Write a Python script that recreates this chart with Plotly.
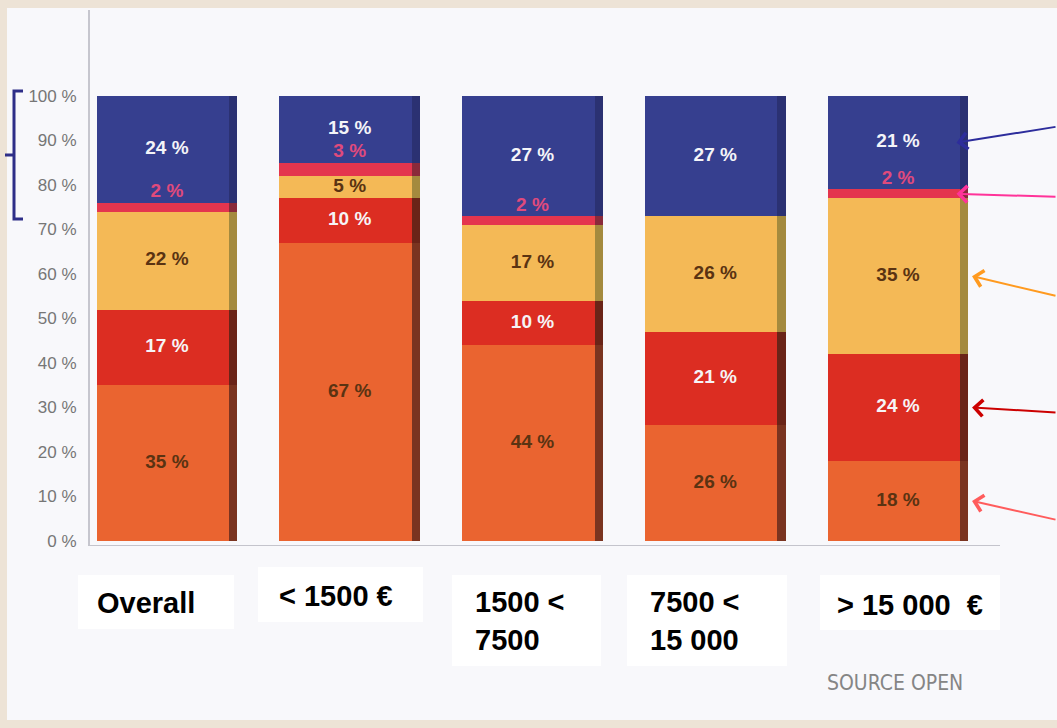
import plotly.graph_objects as go

# ---------------- data ----------------
categories = ["Overall", "< 1500 €", "1500 < 7500", "7500 < 15 000", "> 15 000 €"]
category_labels = ["Overall", "< 1500 €", "1500 <<br>7500", "7500 <<br>15 000", "> 15 000  €"]

orange_vals = [35, 67, 44, 26, 18]   # bottom segment
red_vals = [17, 10, 10, 21, 24]
yellow_vals = [22, 5, 17, 26, 35]
pink_vals = [2, 3, 2, 0, 2]
blue_vals = [24, 15, 27, 27, 21]     # top segment

tick_values = [0, 10, 20, 30, 40, 50, 60, 70, 80, 90, 100]
tick_labels = ["0 %", "10 %", "20 %", "30 %", "40 %", "50 %", "60 %", "70 %", "80 %", "90 %", "100 %"]

# ---------------- styles ----------------
segments = [
    # values, fill colour, right-edge shade, label colour
    (orange_vals, "#ea6430", "#7a3420", "#5a3312"),
    (red_vals, "#dc2d22", "#6a2418", "#f6f4f6"),
    (yellow_vals, "#f4b956", "#a48a3e", "#5a3312"),
    (pink_vals, "#e4354e", "#8a2a3a", "#e04a7c"),
    (blue_vals, "#363f8f", "#2b3172", "#f4f4f8"),
]

W, H = 1057, 728
ML, MR, MT, MB = 90, 57, 10, 183
PW, PH = W - ML - MR, H - MT - MB


def px(x):
    return (x - ML) / PW


def py(y):
    return (H - MB - y) / PH


BAR_W = 0.77
SHADE_W = 0.045

fig = go.Figure()

# bars (explicit stacking via base, overlay mode)
bases = [0] * len(categories)
seg_bases = []
for vals, col, shade, lab in segments:
    seg_bases.append(list(bases))
    fig.add_trace(go.Bar(
        x=categories, y=vals, base=list(bases), width=BAR_W,
        marker=dict(color=col, line=dict(width=0)),
        showlegend=False, hoverinfo="skip",
    ))
    bases = [b + v for b, v in zip(bases, vals)]

# dark strip on the right side of each bar
for (vals, col, shade, lab), b in zip(segments, seg_bases):
    fig.add_trace(go.Bar(
        x=categories, y=vals, base=b, width=SHADE_W,
        offset=BAR_W / 2 - SHADE_W,
        marker=dict(color=shade, line=dict(width=0)),
        showlegend=False, hoverinfo="skip",
    ))

# percentage labels
LABEL_FONT = "Liberation Sans, Arial, sans-serif"
for idx, ((vals, col, shade, lab), b) in enumerate(zip(segments, seg_bases)):
    if idx == 3:  # thin pink band: label placed just above it
        ys = [bb + v + 2.3 for bb, v in zip(b, vals)]
    else:
        ys = [bb + v / 2 for bb, v in zip(b, vals)]
    texts = [f"{v} %" if v > 0 else "" for v in vals]
    fig.add_trace(go.Scatter(
        x=categories, y=ys, mode="text", text=texts,
        textfont=dict(family=LABEL_FONT, size=19, color=lab, weight="bold"),
        showlegend=False, hoverinfo="skip",
    ))

shapes = []
# card background
shapes.append(dict(type="rect", xref="paper", yref="paper",
                   x0=px(7), x1=px(1060), y0=py(720), y1=py(8),
                   fillcolor="#f8f8fb", line=dict(width=0), layer="below"))
# white boxes behind category names
boxes = [(78, 575, 234, 629), (258, 567, 423, 622), (452, 575, 601, 666),
         (627, 575, 787, 666), (820, 575, 1000, 630)]
for x0, y0, x1, y1 in boxes:
    shapes.append(dict(type="rect", xref="paper", yref="paper",
                       x0=px(x0), x1=px(x1), y0=py(y1), y1=py(y0),
                       fillcolor="#ffffff", line=dict(width=0), layer="below"))
# bracket on the left
bracket = (f"M {px(23)},{py(91)} L {px(14)},{py(91)} L {px(14)},{py(219)} L {px(23)},{py(219)} "
           f"M {px(5)},{py(155)} L {px(14)},{py(155)}")
shapes.append(dict(type="path", xref="paper", yref="paper", path=bracket,
                   line=dict(color="#2e2e88", width=3)))

annotations = []
label_left = [95, 277, 473, 648, 835]
label_mid = [603, 596, 621, 621, 605]
for txt, lx, ly in zip(category_labels, label_left, label_mid):
    annotations.append(dict(
        text=txt, xref="paper", yref="paper", x=px(lx), y=py(ly),
        xanchor="left", yanchor="middle", align="left", showarrow=False,
        font=dict(family="Liberation Sans, Arial, sans-serif", size=29,
                  color="#000000", weight="bold"),
    ))

annotations.append(dict(
    text="SOURCE OPEN", xref="paper", yref="paper", x=px(825), y=py(683),
    xanchor="left", yanchor="middle", showarrow=False,
    font=dict(family="Liberation Sans Narrow, DejaVu Sans Condensed, Arial Narrow, sans-serif",
              size=21, color="#858585"),
))

# arrows pointing at the last bar's segments
last = len(categories) - 1
arrow_specs = [
    # segment index, head x (category index units), tail dx, tail dy, colour
    (4, last + 0.32, 112, -16, "#2d2d9c"),
    (3, last + 0.32, 112, 3, "#ff3399"),
    (2, last + 0.405, 95, 20, "#ff9a1f"),
    (1, last + 0.405, 95, 5, "#cc0000"),
    (0, last + 0.405, 95, 19, "#ff5c5c"),
]
for seg, hx, dx, dy, col in arrow_specs:
    vals = segments[seg][0]
    yv = seg_bases[seg][last] + vals[last] / 2
    annotations.append(dict(
        x=hx, y=yv, xref="x", yref="y", text="", showarrow=True,
        ax=dx, ay=dy, axref="pixel", ayref="pixel",
        arrowhead=4, arrowsize=1.6, arrowwidth=2, arrowcolor=col,
    ))

fig.update_layout(
    width=W, height=H,
    margin=dict(l=ML, r=MR, t=MT, b=MB, pad=0),
    paper_bgcolor="#ede3d6",
    plot_bgcolor="rgba(0,0,0,0)",
    barmode="overlay",
    bargap=0,
    shapes=shapes,
    annotations=annotations,
    showlegend=False,
    xaxis=dict(
        type="category", range=[-0.421, 4.558],
        showticklabels=False, showgrid=False, zeroline=False,
        showline=True, linecolor="#c4c4cc", linewidth=1, ticks="",
    ),
    yaxis=dict(
        range=[-0.9, 119.3], tickvals=tick_values, ticktext=tick_labels,
        showgrid=False, zeroline=False,
        showline=True, linecolor="#c6c6ce", linewidth=2,
        ticks="outside", ticklen=8, tickcolor="rgba(0,0,0,0)",
        tickfont=dict(family="Liberation Sans, Arial, sans-serif", size=17, color="#767676"),
    ),
)

fig.write_html(
    "out.html",
    config={"displayModeBar": False},
    post_script="document.body.style.margin='0';document.body.style.background='#ede3d6';",
)
